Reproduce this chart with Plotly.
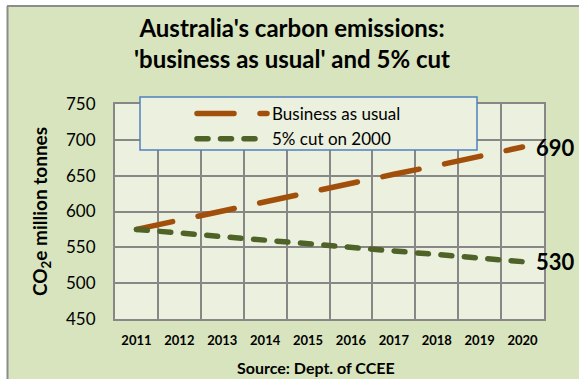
import plotly.graph_objects as go

years = ["2011", "2012", "2013", "2014", "2015", "2016", "2017", "2018", "2019", "2020"]
bau = [575, 588, 600, 613, 626, 639, 652, 664, 677, 690]
cut = [575, 570, 565, 560, 555, 550, 545, 540, 535, 530]
series_names = ["Business as usual", "5% cut on 2000"]

W, H = 579, 379
ML, MR, MT, MB = 115, 35, 104, 60
PW, PH = W - ML - MR, H - MT - MB

def px_x(p):
    return (p - ML) / PW

def px_y(p):
    return (H - MB - p) / PH

ORANGE = "#A34F0C"
GREEN = "#4F6228"
GRID = "#878787"
FONT = "Lato"

fig = go.Figure()
fig.add_trace(go.Scatter(x=years, y=bau, name=series_names[0], mode="lines",
                         line=dict(color=ORANGE, width=5.5, dash="37px,26px")))
fig.add_trace(go.Scatter(x=years, y=cut, name=series_names[1], mode="lines",
                         line=dict(color=GREEN, width=5.5, dash="11px,12.5px")))

shapes = [
    dict(type="rect", xref="paper", yref="paper", x0=px_x(-20), x1=px_x(7), y0=px_y(400), y1=px_y(-20),
         fillcolor="white", line=dict(width=0), layer="above"),
    dict(type="rect", xref="paper", yref="paper", x0=px_x(-20), x1=px_x(600), y0=px_y(5), y1=px_y(-20),
         fillcolor="white", line=dict(width=0), layer="above"),
    dict(type="line", xref="paper", yref="paper", x0=px_x(7.5), x1=px_x(7.5), y0=px_y(400), y1=px_y(6),
         line=dict(color="#8C8C8C", width=2), layer="above"),
    dict(type="line", xref="paper", yref="paper", x0=px_x(7), x1=px_x(600), y0=px_y(6), y1=px_y(6),
         line=dict(color="#8C8C8C", width=2), layer="above"),
    dict(type="rect", xref="paper", yref="paper", x0=px_x(140), x1=px_x(477), y0=px_y(150), y1=px_y(97),
         fillcolor="#EBF1DE", line=dict(color="#4F81BD", width=1.5), layer="above"),
]

annotations = [
    dict(text="<b>Source: Dept. of CCEE</b>", xref="paper", yref="paper", x=px_x(316), y=px_y(367),
         xanchor="center", yanchor="middle", showarrow=False, font=dict(family=FONT, size=16, color="black")),
    dict(text="<b>690</b>", xref="paper", yref="y", x=px_x(534), y=bau[-1], xanchor="left", yanchor="middle",
         showarrow=False, font=dict(family=FONT, size=22, color="black")),
    dict(text="<b>530</b>", xref="paper", yref="y", x=px_x(534), y=cut[-1], xanchor="left", yanchor="middle",
         showarrow=False, font=dict(family=FONT, size=22, color="black")),
]

fig.update_layout(
    width=W, height=H,
    margin=dict(l=ML, r=MR, t=MT, b=MB, autoexpand=False),
    paper_bgcolor="#D7E4BD",
    plot_bgcolor="#EBF1DE",
    font=dict(family=FONT, color="black"),
    title=dict(text="<b>Australia's carbon emissions:<br>'business as usual' and 5% cut</b>",
               x=292 / W, xanchor="center", y=1 - 37 / H, yanchor="middle",
               font=dict(family=FONT, size=24, color="black")),
    showlegend=True,
    legend=dict(x=px_x(192), y=px_y(96), xanchor="left", yanchor="top",
                bgcolor="rgba(0,0,0,0)", borderwidth=0, itemwidth=70,
                font=dict(family=FONT, size=17, color="black"), tracegroupgap=0),
    xaxis=dict(type="category", range=[-0.5, len(years) - 0.5], tickson="boundaries",
               showgrid=True, gridcolor=GRID, gridwidth=2,
               showline=True, linecolor=GRID, linewidth=2, mirror=True, ticks="",
               tickfont=dict(family=FONT, size=13, color="black", weight="bold"),
               ticklabelstandoff=8, fixedrange=True),
    yaxis=dict(range=[450, 750], dtick=50, tick0=450, showgrid=True, gridcolor=GRID, gridwidth=2,
               showline=True, linecolor=GRID, linewidth=2, mirror=True, ticks="",
               tickfont=dict(family=FONT, size=17, color="black"), ticklabelstandoff=14,
               title=dict(text="<b>CO<sub>2</sub>e million tonnes</b>", standoff=13,
                          font=dict(family=FONT, size=19, color="black")),
               zeroline=False, fixedrange=True),
    shapes=shapes,
    annotations=annotations,
)

post = """
var gd = document.getElementById('{plot_id}');
function rc(){ gd.querySelectorAll('.scatterlayer path.js-line, .legend path.js-line').forEach(function(p){ p.style.strokeLinecap='round'; }); }
rc(); gd.on('plotly_afterplot', rc);
"""
fig.write_html("out.html", post_script=post)
